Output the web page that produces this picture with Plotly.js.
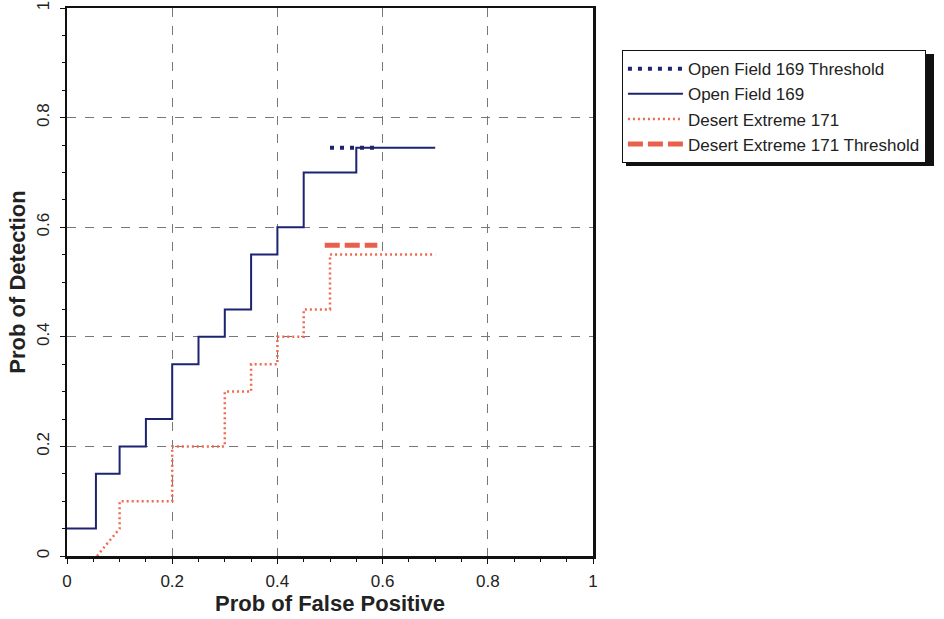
<!DOCTYPE html>
<html><head><meta charset="utf-8">
<script src="https://cdn.plot.ly/plotly-3.0.1.min.js"></script>
<style>body{margin:0;background:#fff}#chart{width:944px;height:619px}</style>
</head><body><div id="chart"></div>
<script>
// Open Field 169 ROC (step curve)
const openX = [0, 0.055, 0.055, 0.1, 0.1, 0.15, 0.15, 0.2, 0.2, 0.25, 0.25, 0.3, 0.3, 0.35, 0.35, 0.4, 0.4, 0.45, 0.45, 0.55, 0.55, 0.7];
const openY = [0.05, 0.05, 0.15, 0.15, 0.2, 0.2, 0.25, 0.25, 0.35, 0.35, 0.4, 0.4, 0.45, 0.45, 0.55, 0.55, 0.6, 0.6, 0.7, 0.7, 0.745, 0.745];
// Open Field 169 threshold
const openThrX = [0.5, 0.59];
const openThrY = [0.745, 0.745];
// Desert Extreme 171 ROC
const desertX = [0.057, 0.1, 0.1, 0.2, 0.2, 0.3, 0.3, 0.35, 0.35, 0.4, 0.4, 0.45, 0.45, 0.5, 0.5, 0.7];
const desertY = [0, 0.05, 0.1, 0.1, 0.2, 0.2, 0.3, 0.3, 0.35, 0.35, 0.4, 0.4, 0.45, 0.45, 0.55, 0.55];
// Desert Extreme 171 threshold
const desertThrX = [0.49, 0.59];
const desertThrY = [0.567, 0.567];
const tickVals = [0, 0.2, 0.4, 0.6, 0.8, 1];
const tickText = ['0', '0.2', '0.4', '0.6', '0.8', '1'];

const traces = [
  {x: openThrX, y: openThrY, mode: 'lines', name: 'Open Field 169 Threshold',
   line: {color: '#1c2470', width: 4, dash: '4px,6px'}},
  {x: openX, y: openY, mode: 'lines', name: 'Open Field 169',
   line: {color: '#1c2470', width: 2}},
  {x: desertX, y: desertY, mode: 'lines', name: 'Desert Extreme 171',
   line: {color: '#f0694e', width: 2.5, dash: '2px,3px'}},
  {x: desertThrX, y: desertThrY, mode: 'lines', name: 'Desert Extreme 171 Threshold',
   line: {color: '#e8604c', width: 5, dash: '15px,5px'}}
];

const axisCommon = {
  range: [0, 1], tickvals: tickVals, ticktext: tickText,
  showline: true, linecolor: '#111', linewidth: 2.5, mirror: true,
  ticks: 'outside', ticklen: 5, tickcolor: '#111',
  showgrid: true, gridcolor: '#777', gridwidth: 1, griddash: 'dash',
  zeroline: false,
  minor: {dtick: 0.05, ticks: 'outside', ticklen: 3, tickcolor: '#111', showgrid: false},
  tickfont: {family: 'Liberation Sans, Arial, sans-serif', size: 17, color: '#222'}
};
const titleFont = {family: 'Liberation Sans, Arial, sans-serif', size: 22, color: '#222', weight: 'bold'};

// pixel helpers for the legend drop-shadow (plot area 67..593 x 8..556)
const px = v => (v - 67) / 526;
const py = v => (556 - v) / 548;

const layout = {
  width: 944, height: 619,
  margin: {l: 67, r: 351, t: 8, b: 63},
  paper_bgcolor: '#fff', plot_bgcolor: '#fff',
  showlegend: true,
  xaxis: Object.assign({}, axisCommon, {
    ticklabelstandoff: 3,
    title: {text: 'Prob of False Positive', standoff: 2, font: titleFont}
  }),
  yaxis: Object.assign({}, axisCommon, {
    tickangle: -90, ticklabelstandoff: 4,
    title: {text: 'Prob of Detection', standoff: 2, font: titleFont}
  }),
  legend: {x: 1.055, y: 0.923, xanchor: 'left', yanchor: 'top',
    bgcolor: '#fff', bordercolor: '#111', borderwidth: 1,
    itemwidth: 55,
    font: {family: 'Liberation Sans, Arial, sans-serif', size: 17, color: '#222'},
    tracegroupgap: 0},
  shapes: [
    {type: 'rect', xref: 'paper', yref: 'paper',
     x0: px(626), x1: px(934), y0: py(166), y1: py(54),
     fillcolor: '#111', line: {width: 0}}
  ]
};

Plotly.newPlot('chart', traces, layout, {displayModeBar: false, staticPlot: true});
</script>
</body></html>
